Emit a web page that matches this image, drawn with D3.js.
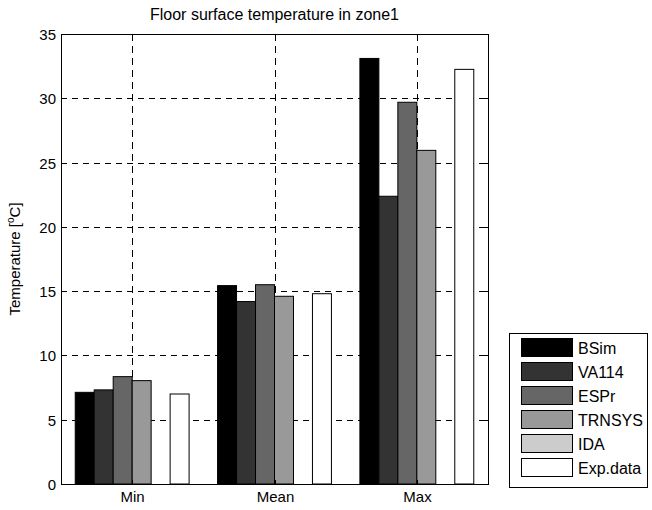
<!DOCTYPE html>
<html><head><meta charset="utf-8">
<script src="https://cdn.jsdelivr.net/npm/d3@7"></script>
<style>body{margin:0;background:#fff;} text{font-family:"Liberation Sans",Arial,sans-serif;fill:#000;}</style>
</head><body>
<svg id="c" width="652" height="510"></svg>
<script>
const categories = ["Min", "Mean", "Max"];
const seriesNames = ["BSim", "VA114", "ESPr", "TRNSYS", "IDA", "Exp.data"];
const seriesColors = ["#000000", "#333333", "#666666", "#999999", "#cccccc", "#ffffff"];
const BSim = [7.13, 15.43, 33.1];
const VA114 = [7.32, 14.19, 22.38];
const ESPr = [8.35, 15.5, 29.69];
const TRNSYS = [8.04, 14.6, 25.95];
const IDA = [0, 0, 0];
const ExpData = [7.0, 14.8, 32.25];
const yTicks = [0, 5, 10, 15, 20, 25, 30, 35];
const seriesValues = [BSim, VA114, ESPr, TRNSYS, IDA, ExpData];

const svg = d3.select("#c");
const L = 61, T = 34, W = 427, H = 450;
const x = d3.scaleLinear().domain([0.5, 3.5]).range([L, L + W]);
const y = d3.scaleLinear().domain([0, 35]).range([T + H, T]);
const groupW = 0.8, barW = groupW / seriesNames.length;

const g = svg.append("g");
// grid
g.selectAll(".hg").data(yTicks.filter(d => d > 0 && d < 35)).enter().append("line")
  .attr("x1", L).attr("x2", L + W).attr("y1", d => Math.round(y(d)) + 0.5).attr("y2", d => Math.round(y(d)) + 0.5)
  .attr("stroke", "#000").attr("stroke-dasharray", "6,5").attr("stroke-width", 1);
g.selectAll(".vg").data(categories).enter().append("line")
  .attr("x1", (d, i) => Math.round(x(i + 1)) + 0.5).attr("x2", (d, i) => Math.round(x(i + 1)) + 0.5)
  .attr("y1", T).attr("y2", T + H)
  .attr("stroke", "#000").attr("stroke-dasharray", "7,5").attr("stroke-width", 1);

// bars
seriesValues.forEach((vals, s) => {
  g.selectAll(".b" + s).data(vals).enter().append("rect")
    .attr("x", (d, i) => x(i + 1 - groupW / 2 + s * barW))
    .attr("width", x(1 + barW) - x(1))
    .attr("y", d => y(d))
    .attr("height", d => y(0) - y(d))
    .attr("fill", seriesColors[s])
    .attr("stroke", "#000").attr("stroke-width", 1);
});

// box
svg.append("rect").attr("x", L + 0.5).attr("y", T + 0.5).attr("width", W).attr("height", H)
  .attr("fill", "none").attr("stroke", "#000").attr("stroke-width", 1);

// ticks
const tk = 4;
yTicks.forEach(v => {
  const yy = Math.round(y(v)) + 0.5;
  svg.append("line").attr("x1", L).attr("x2", L + tk).attr("y1", yy).attr("y2", yy).attr("stroke", "#000");
  svg.append("line").attr("x1", L + W - tk).attr("x2", L + W).attr("y1", yy).attr("y2", yy).attr("stroke", "#000");
  svg.append("text").attr("x", L - 5).attr("y", yy + 5.5).attr("text-anchor", "end")
    .attr("font-size", 15).text(v);
});
categories.forEach((c, i) => {
  const xx = Math.round(x(i + 1)) + 0.5;
  svg.append("line").attr("x1", xx).attr("x2", xx).attr("y1", T + H).attr("y2", T + H - tk).attr("stroke", "#000");
  svg.append("line").attr("x1", xx).attr("x2", xx).attr("y1", T).attr("y2", T + tk).attr("stroke", "#000");
  svg.append("text").attr("x", xx).attr("y", T + H + 18).attr("text-anchor", "middle")
    .attr("font-size", 15).text(c);
});

// title
svg.append("text").attr("x", L + W / 2).attr("y", 20).attr("text-anchor", "middle")
  .attr("font-size", 16).text("Floor surface temperature in zone1");

// y label
const yl = svg.append("text").attr("transform", `translate(20,${T + H / 2}) rotate(-90)`)
  .attr("text-anchor", "middle").attr("font-size", 15);
yl.append("tspan").text("Temperature [");
yl.append("tspan").attr("font-size", 10).attr("dy", -6).text("o");
yl.append("tspan").attr("dy", 6).text("C]");

// legend
const lx = 509, ly = 333;
svg.append("rect").attr("x", lx + 0.5).attr("y", ly + 0.5).attr("width", 138).attr("height", 154)
  .attr("fill", "#fff").attr("stroke", "#000");
seriesNames.forEach((n, i) => {
  const cy = ly + 14.5 + i * 24;
  svg.append("rect").attr("x", 521.5).attr("y", cy - 9).attr("width", 51).attr("height", 18)
    .attr("fill", seriesColors[i]).attr("stroke", "#000");
  svg.append("text").attr("x", 578).attr("y", cy + 6).attr("font-size", 16).text(n);
});
</script>
</body></html>
